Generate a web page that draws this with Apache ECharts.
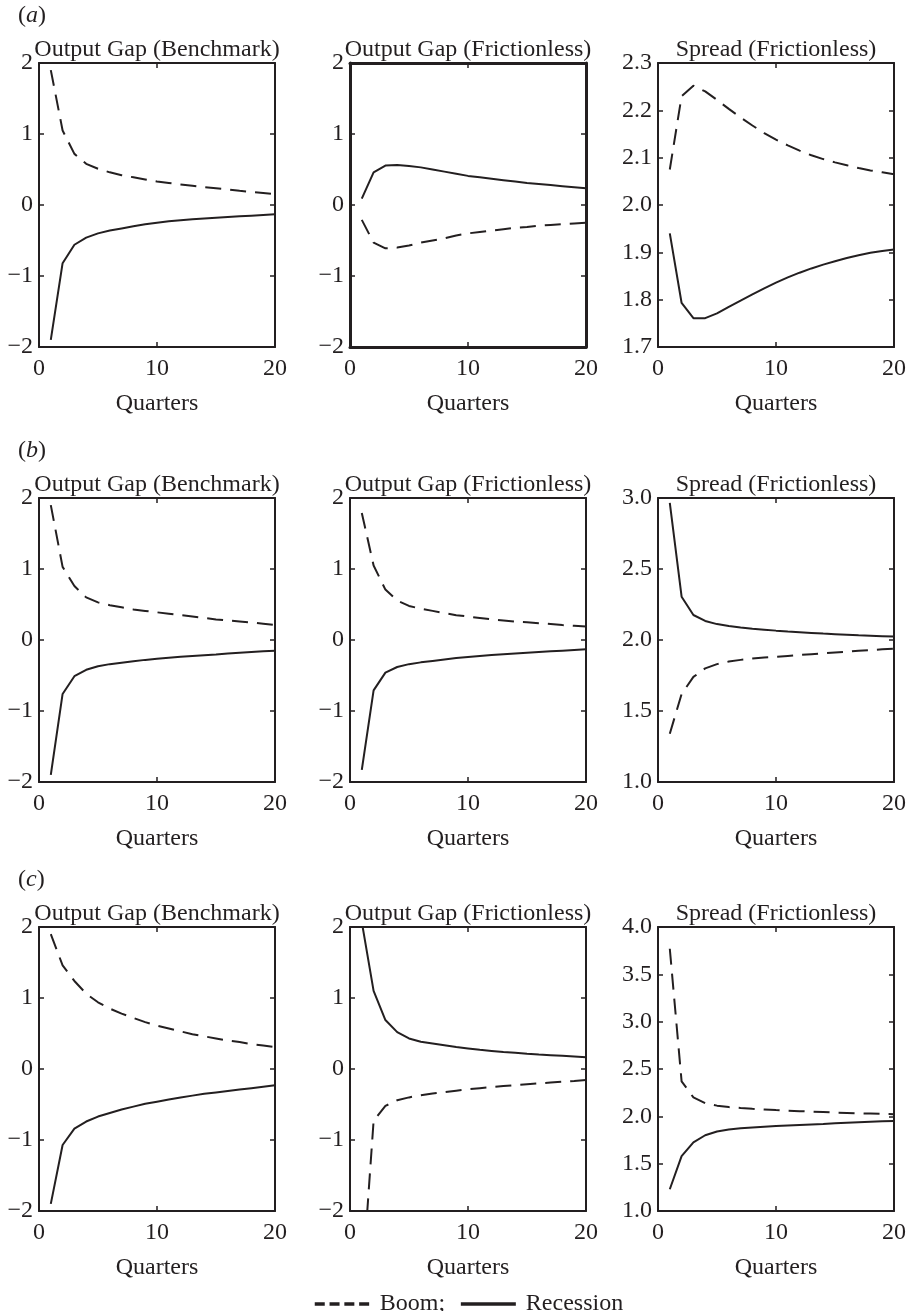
<!DOCTYPE html>
<html>
<head>
<meta charset="utf-8">
<script src="https://cdn.jsdelivr.net/npm/echarts@6/dist/echarts.min.js"></script>
<style>
  html, body { margin: 0; padding: 0; background: #fff; }
  #chart { width: 910px; height: 1311px; }
</style>
</head>
<body>
<div id="chart"></div>
<script>
// Impulse responses: boom vs recession, three scenarios (a), (b), (c)

const quarters = [1, 2, 3, 4, 5, 6, 7, 8, 9, 10, 11, 12, 13, 14, 15, 16, 17, 18, 19, 20];
const xTicks = [0, 10, 20];

const panelTitles = ['Output Gap (Benchmark)', 'Output Gap (Frictionless)', 'Spread (Frictionless)'];
const rowLabels = ['a', 'b', 'c'];

const gapTicks = [-2, -1, 0, 1, 2];
const spreadTicksA = [1.7, 1.8, 1.9, 2.0, 2.1, 2.2, 2.3];
const spreadTicksB = [1.0, 1.5, 2.0, 2.5, 3.0];
const spreadTicksC = [1.0, 1.5, 2.0, 2.5, 3.0, 3.5, 4.0];

// (a)
const boomA1 = [1.9, 1.05, 0.72, 0.58, 0.51, 0.46, 0.42, 0.39, 0.36, 0.33, 0.31, 0.29, 0.27, 0.25, 0.235, 0.22, 0.2, 0.185, 0.17, 0.155];
const recessionA1 = [-1.9, -0.82, -0.56, -0.46, -0.4, -0.36, -0.33, -0.3, -0.27, -0.25, -0.23, -0.215, -0.2, -0.19, -0.18, -0.17, -0.16, -0.15, -0.14, -0.13];
const boomA2 = [-0.21, -0.53, -0.61, -0.6, -0.57, -0.53, -0.5, -0.47, -0.43, -0.4, -0.38, -0.36, -0.34, -0.32, -0.31, -0.29, -0.28, -0.27, -0.26, -0.25];
const recessionA2 = [0.09, 0.46, 0.555, 0.565, 0.55, 0.53, 0.5, 0.47, 0.44, 0.41, 0.39, 0.37, 0.35, 0.33, 0.31, 0.295, 0.28, 0.265, 0.25, 0.235];
const boomA3 = [2.075, 2.23, 2.252, 2.24, 2.222, 2.203, 2.185, 2.168, 2.152, 2.138, 2.126, 2.115, 2.105, 2.097, 2.09, 2.084, 2.078, 2.073, 2.069, 2.065];
const recessionA3 = [1.94, 1.793, 1.761, 1.761, 1.771, 1.785, 1.798, 1.811, 1.824, 1.836, 1.847, 1.857, 1.866, 1.874, 1.881, 1.888, 1.894, 1.899, 1.903, 1.906];

// (b)
const boomB1 = [1.9, 1.03, 0.76, 0.6, 0.53, 0.49, 0.46, 0.43, 0.41, 0.39, 0.37, 0.35, 0.33, 0.31, 0.29, 0.275, 0.26, 0.245, 0.23, 0.21];
const recessionB1 = [-1.9, -0.76, -0.51, -0.42, -0.37, -0.34, -0.32, -0.3, -0.28, -0.265, -0.25, -0.235, -0.225, -0.215, -0.205, -0.19, -0.18, -0.17, -0.16, -0.15];
const boomB2 = [1.79, 1.05, 0.71, 0.555, 0.48, 0.44, 0.41, 0.38, 0.35, 0.33, 0.31, 0.29, 0.275, 0.26, 0.25, 0.235, 0.225, 0.21, 0.2, 0.19];
const recessionB2 = [-1.83, -0.71, -0.46, -0.38, -0.34, -0.315, -0.295, -0.275, -0.255, -0.24, -0.225, -0.21, -0.2, -0.19, -0.18, -0.17, -0.16, -0.15, -0.14, -0.13];
const boomB3 = [1.34, 1.62, 1.74, 1.8, 1.83, 1.848, 1.86, 1.869, 1.876, 1.882, 1.888, 1.894, 1.9, 1.906, 1.912, 1.918, 1.924, 1.929, 1.934, 1.939];
const recessionB3 = [2.965, 2.305, 2.176, 2.134, 2.112, 2.098, 2.088, 2.08, 2.073, 2.066, 2.06, 2.055, 2.05, 2.045, 2.041, 2.037, 2.033, 2.03, 2.027, 2.024];

// (c)
const boomC1 = [1.9, 1.46, 1.24, 1.06, 0.94, 0.85, 0.78, 0.72, 0.66, 0.61, 0.57, 0.53, 0.49, 0.46, 0.43, 0.4, 0.38, 0.35, 0.33, 0.31];
const recessionC1 = [-1.9, -1.07, -0.84, -0.74, -0.67, -0.62, -0.57, -0.53, -0.49, -0.46, -0.43, -0.4, -0.375, -0.35, -0.33, -0.31, -0.29, -0.27, -0.25, -0.23];
const boomC2 = [-3.1, -0.73, -0.52, -0.44, -0.4, -0.37, -0.345, -0.325, -0.305, -0.285, -0.27, -0.255, -0.24, -0.228, -0.215, -0.203, -0.19, -0.18, -0.168, -0.155];
const recessionC2 = [2.07, 1.1, 0.69, 0.52, 0.43, 0.385, 0.36, 0.335, 0.31, 0.29, 0.27, 0.255, 0.24, 0.228, 0.216, 0.205, 0.195, 0.185, 0.175, 0.165];
const boomC3 = [3.77, 2.37, 2.2, 2.14, 2.113, 2.098, 2.088, 2.08, 2.073, 2.066, 2.06, 2.055, 2.05, 2.045, 2.04, 2.036, 2.032, 2.029, 2.026, 2.023];
const recessionC3 = [1.23, 1.58, 1.725, 1.8, 1.84, 1.86, 1.873, 1.882, 1.89, 1.897, 1.903, 1.909, 1.915, 1.92, 1.926, 1.932, 1.937, 1.942, 1.947, 1.952];

// --- layout ---
const INK = '#231f20';
const FONT = '"Liberation Serif", "Times New Roman", serif';
const colLeft = [39, 350, 658];
const rowTop = [63, 498, 927];
const plotW = 236;
const plotH = 284;

const panels = [
    { boom: boomA1, rec: recessionA1, ticks: gapTicks, dec: 0 },
    { boom: boomA2, rec: recessionA2, ticks: gapTicks, dec: 0, thick: true },
    { boom: boomA3, rec: recessionA3, ticks: spreadTicksA, dec: 1 },
    { boom: boomB1, rec: recessionB1, ticks: gapTicks, dec: 0 },
    { boom: boomB2, rec: recessionB2, ticks: gapTicks, dec: 0 },
    { boom: boomB3, rec: recessionB3, ticks: spreadTicksB, dec: 1 },
    { boom: boomC1, rec: recessionC1, ticks: gapTicks, dec: 0 },
    { boom: boomC2, rec: recessionC2, ticks: gapTicks, dec: 0 },
    { boom: boomC3, rec: recessionC3, ticks: spreadTicksC, dec: 1 }
];

function fmt(v, dec) {
    const s = Math.abs(v).toFixed(dec);
    return v < -1e-9 ? '\u2212' + s : s;
}

const grids = [], xAxes = [], yAxes = [], series = [], titles = [];

panels.forEach((p, k) => {
    const row = Math.floor(k / 3), col = k % 3;
    const lw = p.thick ? 3 : 2;
    const axisLine = { show: true, onZero: false, lineStyle: { color: INK, width: lw } };
    const axisTick = { show: true, inside: true, length: 5, lineStyle: { color: INK, width: 1.5 } };
    const label = { color: INK, fontFamily: FONT, fontSize: 24 };

    grids.push({ left: colLeft[col], top: rowTop[row], width: plotW, height: plotH });

    const xBase = { type: 'value', gridIndex: k, min: xTicks[0], max: xTicks[xTicks.length - 1],
        interval: xTicks[1] - xTicks[0], splitLine: { show: false }, axisLine, axisTick };
    xAxes.push(Object.assign({}, xBase, {
        position: 'bottom',
        axisLabel: Object.assign({ margin: 10 }, label),
        name: 'Quarters', nameLocation: 'middle', nameGap: 45,
        nameTextStyle: label
    }));
    xAxes.push(Object.assign({}, xBase, { position: 'top', axisLabel: { show: false } }));

    const t = p.ticks;
    const yBase = { type: 'value', gridIndex: k, min: t[0], max: t[t.length - 1],
        interval: +(t[1] - t[0]).toFixed(2), splitLine: { show: false }, axisLine, axisTick };
    yAxes.push(Object.assign({}, yBase, {
        position: 'left',
        axisLabel: Object.assign({ margin: 6, formatter: v => fmt(v, p.dec) }, label)
    }));
    yAxes.push(Object.assign({}, yBase, { position: 'right', axisLabel: { show: false } }));

    series.push({
        name: 'Boom', type: 'line', xAxisIndex: 2 * k, yAxisIndex: 2 * k,
        data: quarters.map((q, i) => [q, p.boom[i]]), symbol: 'none', clip: true,
        lineStyle: { color: INK, width: 2, type: [16, 9] }, itemStyle: { color: INK }
    });
    series.push({
        name: 'Recession', type: 'line', xAxisIndex: 2 * k, yAxisIndex: 2 * k,
        data: quarters.map((q, i) => [q, p.rec[i]]), symbol: 'none', clip: true,
        lineStyle: { color: INK, width: 2 }, itemStyle: { color: INK }
    });

    titles.push({
        text: panelTitles[col], left: colLeft[col] + plotW / 2, top: rowTop[row] - 25,
        textAlign: 'center', padding: 0,
        textStyle: { color: INK, fontFamily: FONT, fontSize: 24, fontWeight: 'normal' }
    });
});

rowLabels.forEach((r, row) => {
    titles.push({
        text: '({i|' + r + '})', left: 18, top: rowTop[row] - 59, padding: 0,
        textStyle: {
            color: INK, fontFamily: FONT, fontSize: 24, fontWeight: 'normal',
            rich: { i: { color: INK, fontFamily: FONT, fontSize: 24, fontStyle: 'italic' } }
        }
    });
});

const chart = echarts.init(document.getElementById('chart'));
chart.setOption({
    animation: false,
    backgroundColor: '#fff',
    title: titles,
    grid: grids,
    xAxis: xAxes,
    yAxis: yAxes,
    series: series,
    legend: {
        left: 313, top: 1292, padding: 0, itemWidth: 55, itemHeight: 14, itemGap: 14,
        selectedMode: false,
        itemStyle: { opacity: 0 },
        data: [
            { name: 'Boom', lineStyle: { type: [10, 4.8], width: 3.5 } },
            { name: 'Recession', lineStyle: { type: 'solid', width: 3.5 } }
        ],
        formatter: name => name === 'Boom' ? 'Boom;' : name,
        textStyle: { color: INK, fontFamily: FONT, fontSize: 24, padding: [0, 0, 0, 5] }
    }
});
</script>
</body>
</html>
